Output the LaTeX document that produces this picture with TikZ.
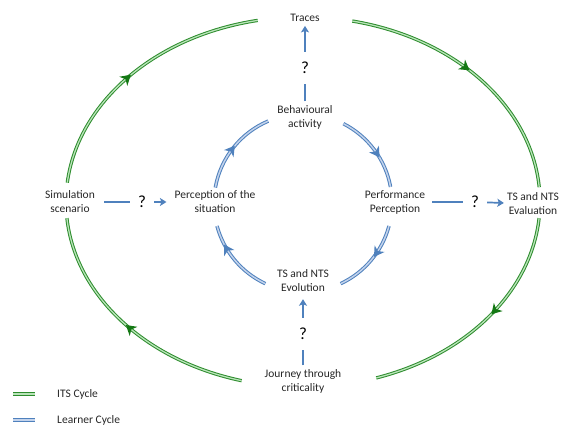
\documentclass[tikz,border=0pt]{standalone}
\usepackage{fontspec}
\setmainfont{Carlito}
\usetikzlibrary{decorations.markings,arrows.meta}
\definecolor{gdark}{RGB}{45,140,45}
\definecolor{glight}{RGB}{185,228,185}
\definecolor{garrow}{RGB}{20,120,20}
\definecolor{bdark}{RGB}{79,129,189}
\definecolor{blight}{RGB}{195,211,236}
\begin{document}
\begin{tikzpicture}[x=1pt,y=1pt,
  lbl/.style={align=center, font=\fontsize{11.5}{14}\selectfont, inner sep=2pt, text=black!85},
  qm/.style={font=\fontsize{17}{18}\selectfont, inner xsep=8pt, inner ysep=10pt},
  its/.style={draw=gdark, line width=1pt, double=glight, double distance=1.3pt},
  lrn/.style={draw=bdark, line width=1pt, double=blight, double distance=1.5pt},
  gmark/.style={postaction={decorate, decoration={markings, mark=at position #1 with {\fill[garrow] (5pt,0) -- (-5pt,6pt) -- (-2pt,0) -- (-5pt,-6pt) -- cycle;}}}},
  bmark/.style={postaction={decorate, decoration={markings, mark=at position #1 with {\fill[bdark] (5pt,0) -- (-5pt,6pt) -- (-2pt,0) -- (-5pt,-6pt) -- cycle;}}}},
  conn/.style={draw=bdark, line width=1.7pt},
  barrow/.style={-{Stealth[length=6.5pt,width=8pt,inset=1.5pt]}}
]
\useasboundingbox (0,0) rectangle (563,-427);

% text nodes
\node[lbl] (traces) at (305,-18) {Traces};
\node[lbl] (beh) at (305,-117.5) {Behavioural\\activity};
\node[lbl] (sim) at (70,-202) {Simulation\\scenario};
\node[lbl] (perc) at (215,-202) {Perception of the\\situation};
\node[lbl] (perf) at (395,-202) {Performance\\Perception};
\node[lbl] (eval) at (533,-204) {TS and NTS\\Evaluation};
\node[lbl] (evol) at (303,-281) {TS and NTS\\Evolution};
\node[lbl] (jour) at (303,-381.5) {Journey through\\criticality};

% question marks
\node[qm] (q1) at (305,-68) {?};
\node[qm] (q2) at (142,-202) {?};
\node[qm] (q3) at (475,-202) {?};
\node[qm] (q4) at (303,-334) {?};

% straight connectors
\draw[conn, shorten <=2pt] (beh) -- (q1);
\draw[conn, barrow, shorten >=2pt] (q1) -- (traces);
\draw[conn, shorten <=7pt] (sim) -- (q2);
\draw[conn, barrow, shorten >=6pt] (q2) -- (perc);
\draw[conn, shorten <=5pt] (perf) -- (q3);
\draw[conn, barrow, shorten >=1pt] (q3) -- (eval);
\draw[conn, shorten <=2pt] (jour) -- (q4);
\draw[conn, barrow, shorten >=5pt] (q4) -- (evol);

% ITS cycle (outer ellipse)
\draw[its, gmark=0.46] (303,-202) ++(174:237pt and 185pt) arc[start angle=174, end angle=101, x radius=237pt, y radius=185pt];
\draw[its, gmark=0.46] (303,-202) ++(78:237pt and 185pt) arc[start angle=78, end angle=4.6, x radius=237pt, y radius=185pt];
\draw[its, gmark=0.43] (303,-202) ++(-5:237pt and 185pt) arc[start angle=-5, end angle=-72, x radius=237pt, y radius=185pt];
\draw[its, gmark=0.49] (303,-202) ++(255:237pt and 185pt) arc[start angle=255, end angle=185, x radius=237pt, y radius=185pt];

% Learner cycle (inner circle)
\draw[lrn, bmark=0.47] (303,-203) ++(170:89pt) arc[start angle=170, end angle=113, radius=89pt];
\draw[lrn, bmark=0.55] (303,-203) ++(63:89pt) arc[start angle=63, end angle=10.4, radius=89pt];
\draw[lrn, bmark=0.38] (303,-203) ++(-15:89pt) arc[start angle=-15, end angle=-65, radius=89pt];
\draw[lrn, bmark=0.68] (303,-203) ++(245:89pt) arc[start angle=245, end angle=195, radius=89pt];

% legend
\coordinate (l1a) at (13,-394);
\coordinate (l1b) at (35,-394);
\coordinate (l2a) at (13,-420);
\coordinate (l2b) at (35,-420);
\draw[its] (l1a) -- (l1b);
\draw[lrn] (l2a) -- (l2b);
\node[lbl, anchor=west] (leg1) at (55,-394) {ITS Cycle};
\node[lbl, anchor=west] (leg2) at (55,-420) {Learner Cycle};
\end{tikzpicture}
\end{document}
